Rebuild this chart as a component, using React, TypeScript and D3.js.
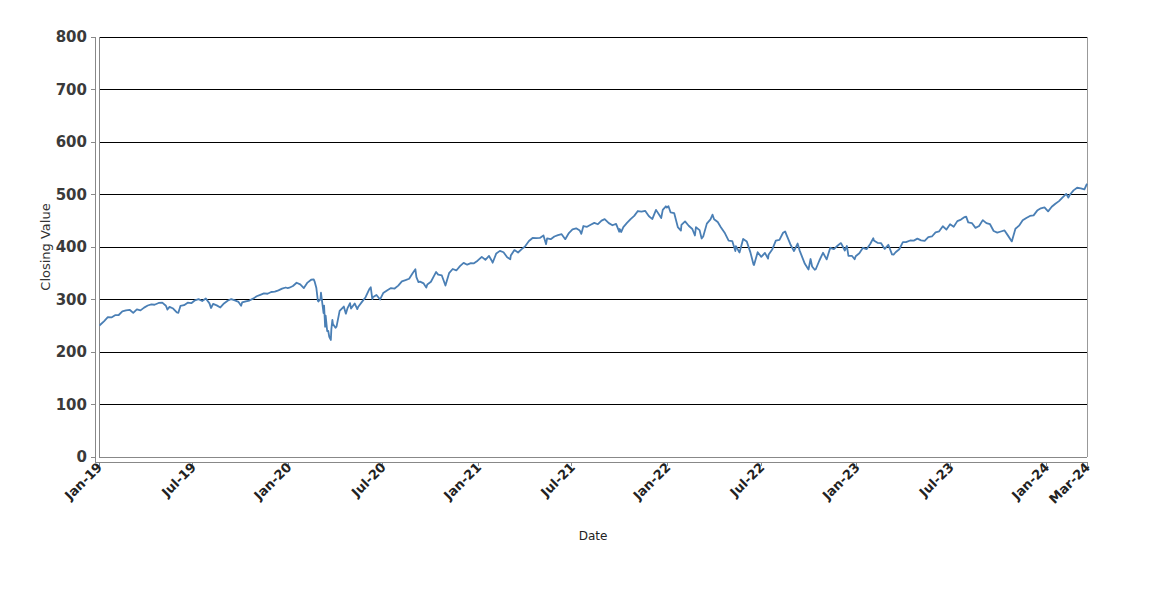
import React from "react";
import * as d3 from "d3";

const yTicks = [0, 100, 200, 300, 400, 500, 600, 700, 800];
const xTickDates = ["2019-01-01", "2019-07-01", "2020-01-01", "2020-07-01", "2021-01-01", "2021-07-01", "2022-01-01", "2022-07-01", "2023-01-01", "2023-07-01", "2024-01-01", "2024-03-20"];
const xTickLabels = ["Jan-19", "Jul-19", "Jan-20", "Jul-20", "Jan-21", "Jul-21", "Jan-22", "Jul-22", "Jan-23", "Jul-23", "Jan-24", "Mar-24"];

const close2019: [string, number][] = [
  ["2019-01-02", 250.18], ["2019-01-04", 252.39], ["2019-01-11", 258.98], ["2019-01-18", 266.46], ["2019-01-25", 265.78],
  ["2019-02-01", 270.06], ["2019-02-08", 270.47], ["2019-02-15", 277.37], ["2019-02-22", 279.14], ["2019-03-01", 280.42],
  ["2019-03-08", 274.46], ["2019-03-15", 281.31], ["2019-03-22", 279.25], ["2019-03-29", 284.56], ["2019-04-05", 288.57],
  ["2019-04-12", 290.72], ["2019-04-18", 290.02], ["2019-04-26", 293.41], ["2019-05-03", 294.03], ["2019-05-10", 288.1],
  ["2019-05-13", 280.86], ["2019-05-17", 285.84], ["2019-05-24", 282.78], ["2019-05-31", 275.27], ["2019-06-03", 274.57],
  ["2019-06-07", 287.65], ["2019-06-14", 289.26], ["2019-06-21", 294.0], ["2019-06-28", 293.0], ["2019-07-05", 298.46],
  ["2019-07-12", 300.65], ["2019-07-19", 297.17], ["2019-07-26", 302.01], ["2019-08-02", 292.62], ["2019-08-05", 283.82],
  ["2019-08-09", 291.62], ["2019-08-16", 288.85], ["2019-08-23", 284.85], ["2019-08-30", 292.45], ["2019-09-06", 297.66],
  ["2019-09-13", 300.87], ["2019-09-20", 298.28], ["2019-09-27", 295.4], ["2019-10-02", 288.06], ["2019-10-04", 294.35],
  ["2019-10-11", 296.28], ["2019-10-18", 297.97], ["2019-10-25", 301.6], ["2019-11-01", 306.14], ["2019-11-08", 308.94],
  ["2019-11-15", 311.79], ["2019-11-22", 310.96], ["2019-11-29", 314.31], ["2019-12-06", 314.87], ["2019-12-13", 317.32],
  ["2019-12-20", 320.73], ["2019-12-27", 322.86], ["2019-12-31", 321.86],
];

const close2020: [string, number][] = [
  ["2020-01-03", 322.41], ["2020-01-10", 325.71], ["2020-01-17", 331.95], ["2020-01-24", 328.77], ["2020-01-31", 321.73],
  ["2020-02-07", 332.2], ["2020-02-14", 337.6], ["2020-02-19", 338.34], ["2020-02-21", 333.48], ["2020-02-24", 322.42],
  ["2020-02-27", 297.51], ["2020-02-28", 296.26], ["2020-03-03", 300.24], ["2020-03-04", 312.86], ["2020-03-06", 297.46],
  ["2020-03-09", 274.23], ["2020-03-10", 288.42], ["2020-03-12", 248.11], ["2020-03-13", 269.32], ["2020-03-16", 239.85],
  ["2020-03-18", 240.0], ["2020-03-20", 228.8], ["2020-03-23", 222.95], ["2020-03-24", 243.15], ["2020-03-26", 261.2],
  ["2020-03-27", 253.42], ["2020-04-01", 246.15], ["2020-04-03", 248.19], ["2020-04-09", 278.2], ["2020-04-17", 286.64],
  ["2020-04-21", 273.04], ["2020-04-24", 282.97], ["2020-04-29", 293.21], ["2020-05-01", 282.79], ["2020-05-08", 292.44],
  ["2020-05-13", 281.6], ["2020-05-15", 286.28], ["2020-05-22", 295.44], ["2020-05-29", 304.32], ["2020-06-05", 319.34],
  ["2020-06-08", 323.2], ["2020-06-11", 300.61], ["2020-06-12", 304.21], ["2020-06-19", 308.64], ["2020-06-26", 300.05],
  ["2020-07-02", 312.23], ["2020-07-10", 317.59], ["2020-07-17", 321.72], ["2020-07-24", 320.88], ["2020-07-31", 326.52],
  ["2020-08-07", 334.57], ["2020-08-14", 336.84], ["2020-08-21", 339.48], ["2020-08-28", 350.58], ["2020-09-02", 357.7],
  ["2020-09-04", 342.57], ["2020-09-08", 333.21], ["2020-09-11", 334.06], ["2020-09-18", 330.65], ["2020-09-23", 322.64],
  ["2020-09-25", 328.73], ["2020-10-02", 333.84], ["2020-10-09", 346.85], ["2020-10-12", 352.43], ["2020-10-16", 347.29],
  ["2020-10-23", 345.78], ["2020-10-30", 326.54], ["2020-11-06", 350.16], ["2020-11-13", 358.1], ["2020-11-20", 355.33],
  ["2020-11-27", 363.67], ["2020-12-04", 369.85], ["2020-12-11", 366.3], ["2020-12-18", 369.18], ["2020-12-24", 369.0],
  ["2020-12-31", 373.88],
];

const close2021: [string, number][] = [
  ["2021-01-08", 381.26], ["2021-01-15", 375.7], ["2021-01-22", 382.88], ["2021-01-27", 374.41], ["2021-01-29", 370.07],
  ["2021-02-05", 387.71], ["2021-02-12", 392.64], ["2021-02-19", 390.03], ["2021-02-26", 380.36], ["2021-03-04", 376.7],
  ["2021-03-05", 383.63], ["2021-03-12", 394.06], ["2021-03-19", 389.48], ["2021-03-26", 395.98], ["2021-04-01", 400.61],
  ["2021-04-09", 411.49], ["2021-04-16", 417.26], ["2021-04-23", 416.74], ["2021-04-30", 417.3], ["2021-05-07", 422.12],
  ["2021-05-12", 405.41], ["2021-05-14", 416.58], ["2021-05-21", 414.94], ["2021-05-28", 420.04], ["2021-06-04", 422.6],
  ["2021-06-11", 424.31], ["2021-06-18", 414.92], ["2021-06-25", 426.61], ["2021-07-02", 433.72], ["2021-07-09", 435.52],
  ["2021-07-16", 431.34], ["2021-07-19", 424.97], ["2021-07-23", 439.94], ["2021-07-30", 438.51], ["2021-08-06", 442.49],
  ["2021-08-13", 445.92], ["2021-08-20", 443.36], ["2021-08-27", 450.25], ["2021-09-02", 453.19], ["2021-09-10", 445.44],
  ["2021-09-17", 441.4], ["2021-09-24", 443.91], ["2021-09-30", 429.14], ["2021-10-01", 434.24], ["2021-10-04", 428.64],
  ["2021-10-08", 437.86], ["2021-10-15", 445.87], ["2021-10-22", 453.12], ["2021-10-29", 459.25], ["2021-11-05", 468.53],
  ["2021-11-12", 467.27], ["2021-11-19", 468.89], ["2021-11-26", 458.97], ["2021-11-30", 455.56], ["2021-12-03", 453.42],
  ["2021-12-10", 470.74], ["2021-12-17", 459.87], ["2021-12-20", 454.98], ["2021-12-23", 470.6], ["2021-12-29", 477.48],
  ["2021-12-31", 474.96],
];

const close2022: [string, number][] = [
  ["2022-01-03", 477.71], ["2022-01-07", 466.09], ["2022-01-14", 464.72], ["2022-01-21", 437.98], ["2022-01-27", 431.24],
  ["2022-01-28", 441.95], ["2022-02-04", 448.7], ["2022-02-11", 440.46], ["2022-02-18", 434.23], ["2022-02-23", 421.95],
  ["2022-02-25", 437.75], ["2022-03-04", 432.17], ["2022-03-08", 416.25], ["2022-03-11", 420.07], ["2022-03-18", 444.52],
  ["2022-03-25", 452.69], ["2022-03-29", 461.55], ["2022-04-01", 452.92], ["2022-04-08", 447.57], ["2022-04-14", 437.79],
  ["2022-04-22", 426.04], ["2022-04-29", 412.0], ["2022-05-06", 411.34], ["2022-05-12", 392.34], ["2022-05-13", 401.72],
  ["2022-05-20", 389.63], ["2022-05-27", 415.26], ["2022-06-03", 410.54], ["2022-06-10", 389.8], ["2022-06-16", 366.65],
  ["2022-06-17", 365.86], ["2022-06-24", 390.08], ["2022-07-01", 381.24], ["2022-07-08", 388.67], ["2022-07-14", 377.91],
  ["2022-07-15", 385.13], ["2022-07-22", 395.09], ["2022-07-29", 411.99], ["2022-08-05", 413.47], ["2022-08-12", 427.1],
  ["2022-08-16", 429.7], ["2022-08-19", 422.14], ["2022-08-26", 405.31], ["2022-09-02", 392.24], ["2022-09-09", 406.6],
  ["2022-09-13", 393.1], ["2022-09-16", 385.56], ["2022-09-23", 367.95], ["2022-09-30", 357.18], ["2022-10-04", 377.09],
  ["2022-10-07", 362.79], ["2022-10-12", 356.56], ["2022-10-14", 357.63], ["2022-10-21", 374.29], ["2022-10-28", 389.02],
  ["2022-11-04", 376.35], ["2022-11-11", 398.51], ["2022-11-18", 396.03], ["2022-11-25", 402.33], ["2022-12-01", 407.38],
  ["2022-12-02", 406.91], ["2022-12-09", 393.28], ["2022-12-13", 401.97], ["2022-12-16", 383.27], ["2022-12-23", 382.91],
  ["2022-12-28", 376.66], ["2022-12-30", 382.43],
];

const close2023: [string, number][] = [
  ["2023-01-06", 388.08], ["2023-01-13", 398.5], ["2023-01-20", 395.88], ["2023-01-27", 405.68], ["2023-02-02", 416.78],
  ["2023-02-03", 412.35], ["2023-02-10", 408.04], ["2023-02-17", 407.26], ["2023-02-24", 396.38], ["2023-03-03", 404.19],
  ["2023-03-10", 385.91], ["2023-03-13", 385.36], ["2023-03-17", 389.99], ["2023-03-24", 395.75], ["2023-03-31", 409.39],
  ["2023-04-06", 409.19], ["2023-04-14", 412.46], ["2023-04-21", 412.2], ["2023-04-28", 415.93], ["2023-05-05", 412.63],
  ["2023-05-12", 411.59], ["2023-05-19", 418.62], ["2023-05-26", 420.02], ["2023-06-02", 427.92], ["2023-06-09", 429.9],
  ["2023-06-16", 439.46], ["2023-06-23", 433.21], ["2023-06-30", 443.28], ["2023-07-07", 438.55], ["2023-07-14", 449.28],
  ["2023-07-21", 452.18], ["2023-07-28", 456.92], ["2023-07-31", 457.79], ["2023-08-04", 446.81], ["2023-08-11", 445.65],
  ["2023-08-18", 436.5], ["2023-08-25", 439.97], ["2023-09-01", 451.19], ["2023-09-08", 445.52], ["2023-09-15", 443.37],
  ["2023-09-22", 430.42], ["2023-09-29", 427.48], ["2023-10-06", 429.54], ["2023-10-13", 431.5], ["2023-10-20", 421.19],
  ["2023-10-27", 410.68], ["2023-11-03", 434.69], ["2023-11-10", 440.61], ["2023-11-17", 450.79], ["2023-11-24", 455.3],
  ["2023-12-01", 459.1], ["2023-12-08", 460.2], ["2023-12-15", 469.33], ["2023-12-22", 473.65], ["2023-12-29", 475.31],
];

const close2024: [string, number][] = [
  ["2024-01-05", 467.92], ["2024-01-12", 476.68], ["2024-01-19", 482.43], ["2024-01-26", 487.41], ["2024-02-02", 494.35],
  ["2024-02-09", 501.2], ["2024-02-13", 494.08], ["2024-02-16", 499.51], ["2024-02-23", 507.85], ["2024-03-01", 512.85],
  ["2024-03-08", 511.72], ["2024-03-15", 509.83], ["2024-03-20", 520.48],
];

const parse = d3.timeParse("%Y-%m-%d");

export default function App() {
  const W = 1150, H = 600;
  const left = 99, right = 1087, top = 37, bottom = 457;
  const data = [...close2019, ...close2020, ...close2021, ...close2022, ...close2023, ...close2024].map(
    ([d, v]) => ({ date: parse(d) as Date, value: v })
  );
  const x = d3.scaleTime().domain([parse("2019-01-01") as Date, parse("2024-03-20") as Date]).range([left, right]);
  const y = d3.scaleLinear().domain([0, 800]).range([bottom, top]);
  const line = d3.line<{ date: Date; value: number }>().x(d => x(d.date)).y(d => y(d.value));
  const axisX = 95, axisY = 462;
  const font = "'DejaVu Sans', sans-serif";

  return (
    <svg width={W} height={H} style={{ position: "absolute", left: 0, top: 0, display: "block", background: "#fff" }}>
      {yTicks.filter(t => t > 0).map(t => (
        <line key={"g" + t} x1={left} x2={right} y1={y(t)} y2={y(t)} stroke="#000" strokeWidth={1} shapeRendering="crispEdges" />
      ))}
      <line x1={left} x2={left} y1={top} y2={bottom} stroke="#888" shapeRendering="crispEdges" />
      <line x1={right} x2={right} y1={top} y2={bottom} stroke="#999" shapeRendering="crispEdges" />
      <line x1={left} x2={right} y1={bottom} y2={bottom} stroke="#888" shapeRendering="crispEdges" />
      <path d={line(data) || ""} fill="none" stroke="#4a7fb5" strokeWidth={1.8} strokeLinejoin="round" />
      <line x1={axisX} x2={axisX} y1={top} y2={axisY} stroke="#888" shapeRendering="crispEdges" />
      {yTicks.map(t => (
        <g key={"y" + t}>
          <line x1={axisX - 4} x2={axisX} y1={y(t)} y2={y(t)} stroke="#888" shapeRendering="crispEdges" />
          <text x={87} y={y(t)} dy="0.36em" textAnchor="end" fontFamily={font} fontWeight="bold" fontSize={15} fill="#3a3a3a">{t}</text>
        </g>
      ))}
      <line x1={axisX} x2={right} y1={axisY} y2={axisY} stroke="#888" shapeRendering="crispEdges" />
      {xTickDates.map((d, i) => {
        const px = x(parse(d) as Date);
        return (
          <g key={"x" + d}>
            <line x1={px} x2={px} y1={axisY} y2={axisY + 4} stroke="#888" shapeRendering="crispEdges" />
            <text transform={`translate(${px + 4},${axisY + 6}) rotate(-45)`} textAnchor="end" fontFamily={font} fontWeight="bold" fontSize={13} fill="#222">{xTickLabels[i]}</text>
          </g>
        );
      })}
      <text transform={`translate(50,${(top + bottom) / 2}) rotate(-90)`} textAnchor="middle" fontFamily={font} fontSize={13} fill="#333">Closing Value</text>
      <text x={(left + right) / 2} y={540} textAnchor="middle" fontFamily={font} fontSize={12} fill="#222">Date</text>
    </svg>
  );
}
